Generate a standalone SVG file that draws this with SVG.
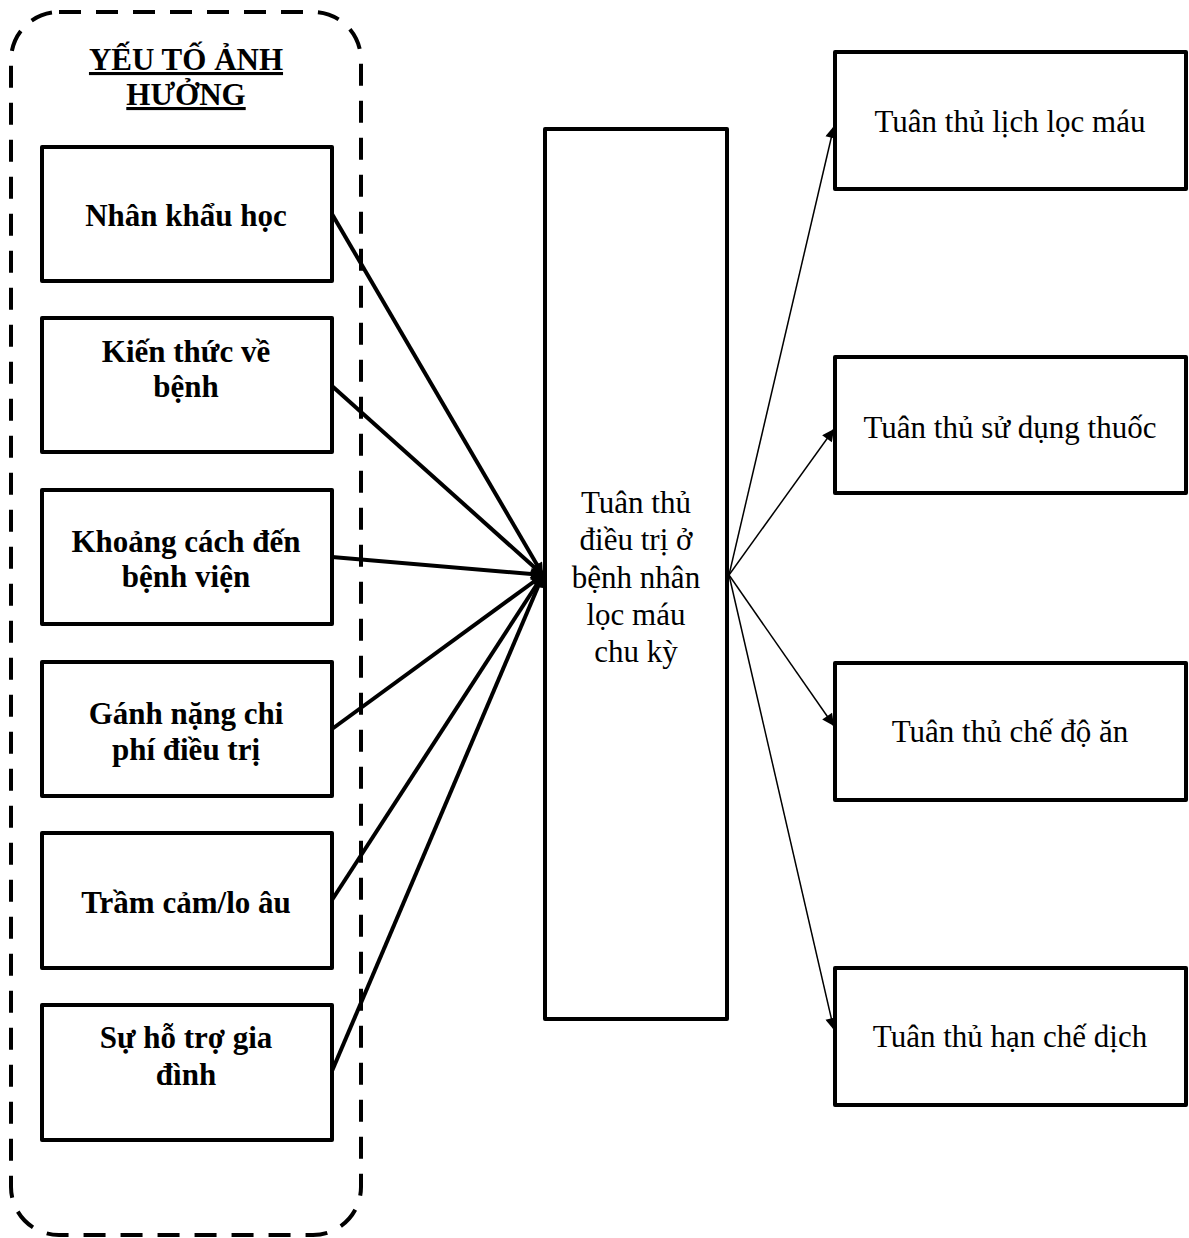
<svg xmlns="http://www.w3.org/2000/svg" width="1189" height="1238" viewBox="0 0 1189 1238">
<style>
.box{fill:#fff;stroke:#000;stroke-width:4;stroke-linejoin:round}
.bt{font-family:"Liberation Serif","Tinos","Times New Roman","DejaVu Serif","Noto Serif",serif;font-size:31px;font-weight:bold;text-anchor:middle;fill:#000}
.rt{font-family:"Liberation Serif","Tinos","Times New Roman","DejaVu Serif","Noto Serif",serif;font-size:31px;text-anchor:middle;fill:#000}
.thick{stroke:#000;stroke-width:4;fill:none}
.thin{stroke:#000;stroke-width:1.5;fill:none}
</style>
<defs>
<marker id="ah" viewBox="0 0 10 10" refX="10" refY="5" markerUnits="userSpaceOnUse" markerWidth="14" markerHeight="12" orient="auto">
<path d="M0,0 L10,5 L0,10 z" fill="#000"/>
</marker>
</defs>
<rect id="group-border" x="11" y="12" width="350" height="1223" rx="48" ry="48" fill="none" stroke="#000" stroke-width="4" stroke-dasharray="22 15"/>
<g id="title">
<text class="bt" x="186" y="70" text-decoration="underline">YẾU TỐ ẢNH</text>
<text class="bt" x="186" y="105" text-decoration="underline">HƯỞNG</text>
</g>
<g id="connectors">
<line class="thick" x1="332" y1="214" x2="543" y2="575" marker-end="url(#ah)"/>
<line class="thick" x1="332" y1="386" x2="543" y2="575" marker-end="url(#ah)"/>
<line class="thick" x1="332" y1="557" x2="543" y2="575" marker-end="url(#ah)"/>
<line class="thick" x1="332" y1="729" x2="543" y2="575" marker-end="url(#ah)"/>
<line class="thick" x1="332" y1="900" x2="543" y2="575" marker-end="url(#ah)"/>
<line class="thick" x1="332" y1="1071" x2="543" y2="575" marker-end="url(#ah)"/>
<line class="thin" x1="729" y1="575" x2="834" y2="126" marker-end="url(#ah)"/>
<line class="thin" x1="729" y1="575" x2="834" y2="429" marker-end="url(#ah)"/>
<line class="thin" x1="729" y1="575" x2="834" y2="726" marker-end="url(#ah)"/>
<line class="thin" x1="729" y1="575" x2="834" y2="1030" marker-end="url(#ah)"/>
</g>
<g id="node-nhan-khau-hoc">
<rect class="box" x="42" y="147" width="290" height="134"/>
<text class="bt" x="186" y="226">Nhân khẩu học</text>
</g>
<g id="node-kien-thuc">
<rect class="box" x="42" y="318" width="290" height="134"/>
<text class="bt" x="186" y="362">Kiến thức về</text>
<text class="bt" x="186" y="397">bệnh</text>
</g>
<g id="node-khoang-cach">
<rect class="box" x="42" y="490" width="290" height="134"/>
<text class="bt" x="186" y="552">Khoảng cách đến</text>
<text class="bt" x="186" y="587">bệnh viện</text>
</g>
<g id="node-ganh-nang">
<rect class="box" x="42" y="662" width="290" height="134"/>
<text class="bt" x="186" y="724">Gánh nặng chi</text>
<text class="bt" x="186" y="760">phí điều trị</text>
</g>
<g id="node-tram-cam">
<rect class="box" x="42" y="833" width="290" height="135"/>
<text class="bt" x="186" y="913">Trầm cảm/lo âu</text>
</g>
<g id="node-ho-tro">
<rect class="box" x="42" y="1005" width="290" height="135"/>
<text class="bt" x="186" y="1048">Sự hỗ trợ gia</text>
<text class="bt" x="186" y="1085">đình</text>
</g>
<g id="node-center">
<rect class="box" x="545" y="129" width="182" height="890"/>
<text class="rt" x="636" y="513">Tuân thủ</text>
<text class="rt" x="636" y="550">điều trị ở</text>
<text class="rt" x="636" y="588">bệnh nhân</text>
<text class="rt" x="636" y="625">lọc máu</text>
<text class="rt" x="636" y="662">chu kỳ</text>
</g>
<g id="node-lich-loc-mau">
<rect class="box" x="835" y="52" width="351" height="137"/>
<text class="rt" x="1010" y="132">Tuân thủ lịch lọc máu</text>
</g>
<g id="node-su-dung-thuoc">
<rect class="box" x="835" y="357" width="351" height="136"/>
<text class="rt" x="1010" y="438">Tuân thủ sử dụng thuốc</text>
</g>
<g id="node-che-do-an">
<rect class="box" x="835" y="663" width="351" height="137"/>
<text class="rt" x="1010" y="742">Tuân thủ chế độ ăn</text>
</g>
<g id="node-han-che-dich">
<rect class="box" x="835" y="968" width="351" height="137"/>
<text class="rt" x="1010" y="1047">Tuân thủ hạn chế dịch</text>
</g>
</svg>
